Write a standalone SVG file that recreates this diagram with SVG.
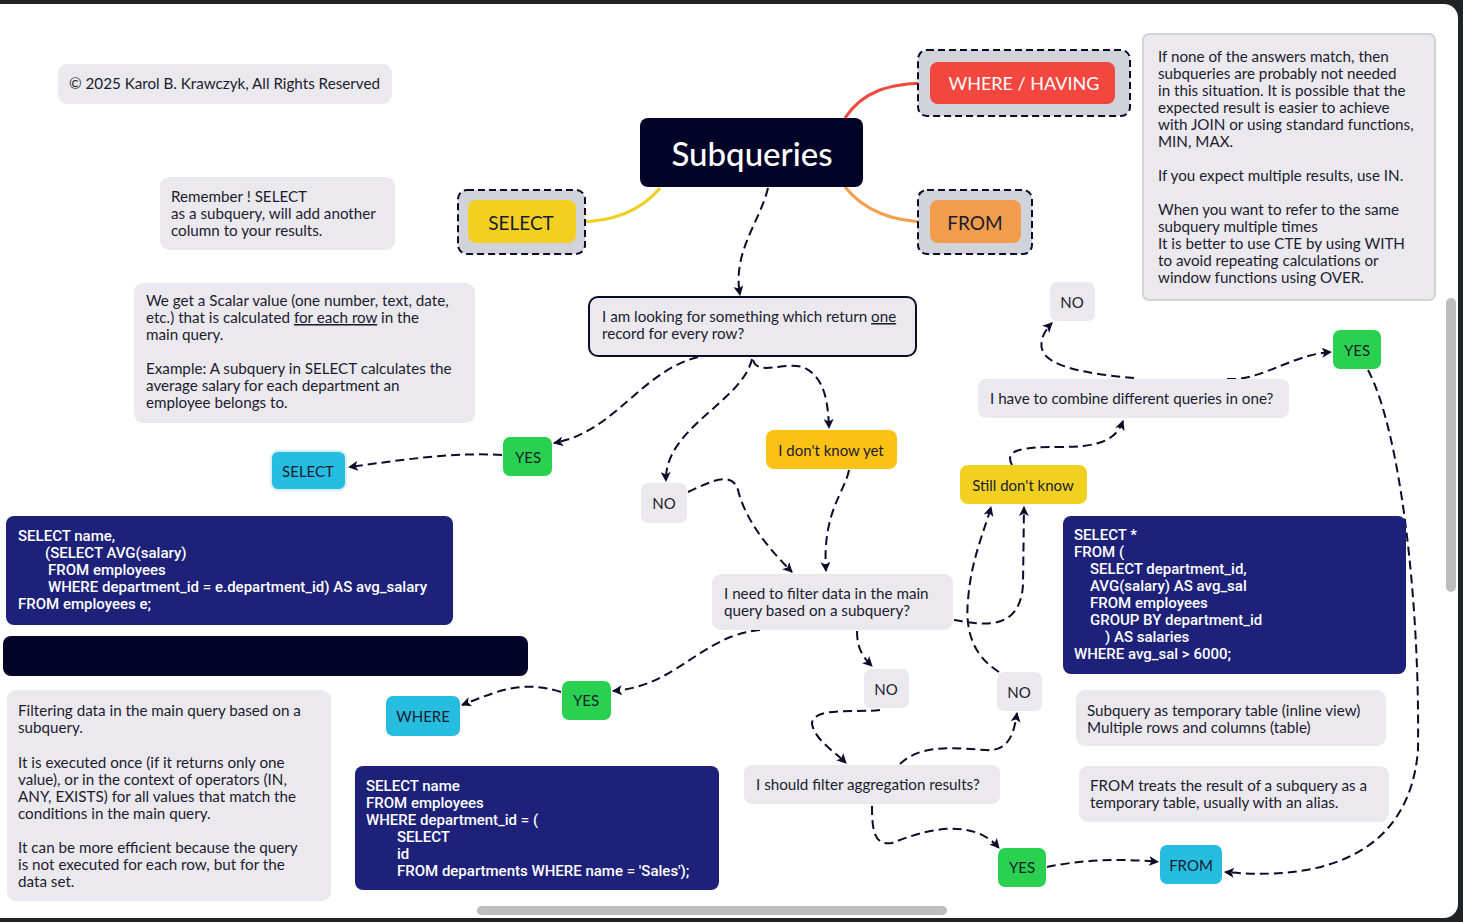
<svg xmlns="http://www.w3.org/2000/svg" width="1463" height="922" viewBox="0 0 1463 922">
<defs>
<marker id="arr" viewBox="0 0 10 10" refX="9" refY="5" markerWidth="10" markerHeight="10" markerUnits="userSpaceOnUse" orient="auto">
<path d="M0,0 L10,5 L0,10 L2.5,5 z" fill="#0b0c2a"/>
</marker>
<style>
.t{font-family:Lato,"Noto Sans",sans-serif;font-size:15.2px;fill:#1b1b30}
.c{font-family:Roboto,"Liberation Sans",sans-serif;font-size:15px;font-weight:500;fill:#ffffff;letter-spacing:0px}
.note{fill:#ebe9ed}
.code{fill:#1d217a}
.ctr{text-anchor:middle;dominant-baseline:central}
.lbl{font-family:Lato,"Noto Sans",sans-serif;font-size:15px;fill:#1b1b30}
.big{font-family:Lato,"Noto Sans",sans-serif;font-size:19px;fill:#1b1b30}
.yes{fill:#2ad150}
.cyan{fill:#27bde0}
.grey{fill:#ebe9ed}
.frame{fill:#d2d2da;stroke:#0b0c2a;stroke-width:2;stroke-dasharray:7 4}
.dash{fill:none;stroke:#0b0c2a;stroke-width:2;stroke-dasharray:9 5;marker-end:url(#arr)}
</style>
</defs>
<rect x="0" y="0" width="1463" height="922" fill="#202226"/>
<rect x="-20" y="4" width="1478" height="914" rx="14" fill="#ffffff"/>
<rect x="1446" y="298" width="10" height="294" rx="5" fill="#bdbdbd"/>
<rect x="477" y="906" width="470" height="9" rx="4.5" fill="#bdbdbd"/>

<g id="mindmap-lines" fill="none" stroke-width="3">
<path d="M845 118 C862 92 888 83 930 83" stroke="#ee4a40"/>
<path d="M660 188 C640 212 612 222 576 222" stroke="#efcf24"/>
<path d="M845 187 C862 208 890 222 930 222" stroke="#f2a04e"/>
</g>

<g id="connectors">
<path class="dash" d="M768 188 C760 222 732 252 740 295"/>
<path class="dash" d="M698 357 C640 372 615 432 554 443"/>
<path class="dash" d="M502 455 C452 452 402 460 349 467"/>
<path class="dash" d="M752 359 C742 402 664 428 666 481"/>
<path class="dash" d="M753 360 C758 377 786 360 805 368 C824 378 828 400 829 428"/>
<path class="dash" d="M688 492 C710 482 732 470 738 490 C746 522 770 550 792 572"/>
<path class="dash" d="M849 470 C845 492 822 512 826 571"/>
<path class="dash" d="M760 630 C700 636 678 686 613 691"/>
<path class="dash" d="M561 692 C522 680 500 690 462 705"/>
<path class="dash" d="M857 631 C857 650 864 658 872 666"/>
<path class="dash" d="M880 710 C860 713 812 706 812 724 C815 740 835 752 846 763"/>
<path class="dash" d="M900 764 C920 744 955 748 985 750 C1010 752 1014 732 1017 713"/>
<path class="dash" d="M872 806 C872 830 874 846 892 843 C920 832 970 815 999 848"/>
<path class="dash" d="M1047 867 C1080 860 1120 858 1158 862"/>
<path class="dash" d="M954 620 C982 625 1020 632 1023 585 L1024 507"/>
<path class="dash" d="M999 672 C980 660 964 640 968 600 C971 560 984 532 991 507"/>
<path class="dash" d="M1012 465 C1004 450 1020 447 1060 447 C1100 447 1116 440 1123 421"/>
<path class="dash" d="M1134 378 C1100 375 1060 370 1046 356 C1036 345 1044 331 1052 323"/>
<path class="dash" d="M1227 379 C1262 381 1290 355 1331 352"/>
<path class="dash" d="M1368 370 C1400 430 1420 600 1418 750 C1410 850 1330 882 1225 872"/>
</g>

<g id="copyright">
<rect x="58" y="64" width="334" height="40" rx="9" class="note"/>
<text class="t" x="69" y="89">© 2025 Karol B. Krawczyk, All Rights Reserved</text>
</g>

<g id="remember-note">
<rect x="160" y="177" width="235" height="73" rx="9" class="note"/>
<text class="t" x="171" y="202">Remember ! SELECT</text>
<text class="t" x="171" y="219">as a subquery, will add another</text>
<text class="t" x="171" y="236">column to your results.</text>
</g>

<g id="subqueries">
<rect x="640" y="118" width="223" height="69" rx="8" fill="#020326"/>
<text class="ctr" x="752" y="153" font-family="Lato,'Noto Sans',sans-serif" font-size="33" font-weight="500" fill="#ffffff">Subqueries</text>
</g>

<g id="select-topic">
<rect x="458" y="190" width="127" height="64" rx="9" class="frame"/>
<rect x="468" y="200" width="108" height="43" rx="8" fill="#f2d022"/>
<text class="ctr big" x="521" y="222">SELECT</text>
</g>

<g id="where-having-topic">
<rect x="918" y="50" width="212" height="66" rx="9" class="frame"/>
<rect x="930" y="62" width="185" height="42" rx="8" fill="#f2463e"/>
<text class="ctr" x="1024" y="83" font-family="Lato,'Noto Sans',sans-serif" font-size="18" fill="#ffffff">WHERE / HAVING</text>
</g>

<g id="from-topic">
<rect x="918" y="190" width="114" height="64" rx="9" class="frame"/>
<rect x="930" y="200" width="91" height="43" rx="8" fill="#f29d4b"/>
<text class="ctr big" x="975" y="222">FROM</text>
</g>

<g id="info-note">
<rect x="1143" y="34" width="292" height="266" rx="6" fill="#ebe9ed" stroke="#d3d3d6" stroke-width="2"/>
<text class="t" x="1158" y="62">If none of the answers match, then</text>
<text class="t" x="1158" y="79">subqueries are probably not needed</text>
<text class="t" x="1158" y="96">in this situation. It is possible that the</text>
<text class="t" x="1158" y="113">expected result is easier to achieve</text>
<text class="t" x="1158" y="130">with JOIN or using standard functions,</text>
<text class="t" x="1158" y="147">MIN, MAX.</text>
<text class="t" x="1158" y="181">If you expect multiple results, use IN.</text>
<text class="t" x="1158" y="215">When you want to refer to the same</text>
<text class="t" x="1158" y="232">subquery multiple times</text>
<text class="t" x="1158" y="249">It is better to use CTE by using WITH</text>
<text class="t" x="1158" y="266">to avoid repeating calculations or</text>
<text class="t" x="1158" y="283">window functions using OVER.</text>
</g>

<g id="scalar-note">
<rect x="134" y="283" width="341" height="140" rx="9" class="note"/>
<text class="t" x="146" y="306">We get a Scalar value (one number, text, date,</text>
<text class="t" x="146" y="323">etc.) that is calculated <tspan text-decoration="underline">for each row</tspan> in the</text>
<text class="t" x="146" y="340">main query.</text>
<text class="t" x="146" y="374">Example: A subquery in SELECT calculates the</text>
<text class="t" x="146" y="391">average salary for each department an</text>
<text class="t" x="146" y="408">employee belongs to.</text>
</g>

<g id="q-one-record">
<rect x="589" y="297" width="327" height="59" rx="9" fill="#ebe9ed" stroke="#0b0c2a" stroke-width="2"/>
<text class="t" x="602" y="322">I am looking for something which return <tspan text-decoration="underline">one</tspan></text>
<text class="t" x="602" y="339">record for every row?</text>
</g>

<g id="yes-select">
<rect x="503" y="437" width="49" height="39" rx="7" class="yes"/>
<text class="ctr lbl" x="528" y="457">YES</text>
</g>

<g id="select-answer">
<rect x="271" y="451" width="75" height="39" rx="7" class="cyan" stroke="#d6eef6" stroke-width="2"/>
<text class="ctr lbl" x="308" y="471">SELECT</text>
</g>

<g id="code-select">
<rect x="6" y="516" width="447" height="109" rx="8" class="code"/>
<text class="c" x="18" y="541">SELECT name,</text>
<text class="c" x="45" y="558">(SELECT AVG(salary)</text>
<text class="c" x="48" y="575">FROM employees</text>
<text class="c" x="48" y="592">WHERE department_id = e.department_id) AS avg_salary</text>
<text class="c" x="18" y="609">FROM employees e;</text>
</g>

<g id="dark-bar">
<rect x="3" y="636" width="525" height="40" rx="8" fill="#020326"/>
</g>

<g id="no-1">
<rect x="641" y="483" width="46" height="40" rx="7" class="grey"/>
<text class="ctr lbl" x="664" y="503">NO</text>
</g>

<g id="dont-know-yet">
<rect x="766" y="430" width="131" height="39" rx="8" fill="#fbc115"/>
<text class="ctr lbl" x="831" y="450">I don't know yet</text>
</g>

<g id="q-filter">
<rect x="712" y="574" width="241" height="56" rx="9" class="note"/>
<text class="t" x="724" y="599">I need to filter data in the main</text>
<text class="t" x="724" y="616">query based on a subquery?</text>
</g>

<g id="yes-where">
<rect x="562" y="681" width="49" height="39" rx="7" class="yes"/>
<text class="ctr lbl" x="586" y="700">YES</text>
</g>

<g id="where-answer">
<rect x="386" y="696" width="74" height="40" rx="7" class="cyan"/>
<text class="ctr lbl" x="423" y="716">WHERE</text>
</g>

<g id="filter-note">
<rect x="7" y="690" width="324" height="211" rx="9" class="note"/>
<text class="t" x="18" y="716">Filtering data in the main query based on a</text>
<text class="t" x="18" y="733">subquery.</text>
<text class="t" x="18" y="768">It is executed once (if it returns only one</text>
<text class="t" x="18" y="785">value), or in the context of operators (IN,</text>
<text class="t" x="18" y="802">ANY, EXISTS) for all values that match the</text>
<text class="t" x="18" y="819">conditions in the main query.</text>
<text class="t" x="18" y="853">It can be more efficient because the query</text>
<text class="t" x="18" y="870">is not executed for each row, but for the</text>
<text class="t" x="18" y="887">data set.</text>
</g>

<g id="code-where">
<rect x="355" y="766" width="364" height="124" rx="8" class="code"/>
<text class="c" x="366" y="791">SELECT name</text>
<text class="c" x="366" y="808">FROM employees</text>
<text class="c" x="366" y="825">WHERE department_id = (</text>
<text class="c" x="397" y="842">SELECT</text>
<text class="c" x="397" y="859">id</text>
<text class="c" x="397" y="876">FROM departments WHERE name = 'Sales');</text>
</g>

<g id="no-2">
<rect x="864" y="669" width="45" height="39" rx="7" class="grey"/>
<text class="ctr lbl" x="886" y="689">NO</text>
</g>

<g id="no-3">
<rect x="997" y="672" width="45" height="39" rx="7" class="grey"/>
<text class="ctr lbl" x="1019" y="692">NO</text>
</g>

<g id="q-aggregation">
<rect x="744" y="765" width="256" height="39" rx="8" class="note"/>
<text class="t" x="756" y="790">I should filter aggregation results?</text>
</g>

<g id="yes-from">
<rect x="998" y="848" width="48" height="39" rx="7" class="yes"/>
<text class="ctr lbl" x="1022" y="867">YES</text>
</g>

<g id="from-answer">
<rect x="1160" y="845" width="62" height="39" rx="7" class="cyan"/>
<text class="ctr lbl" x="1191" y="865">FROM</text>
</g>

<g id="inline-view-note">
<rect x="1076" y="690" width="310" height="56" rx="9" class="note"/>
<text class="t" x="1087" y="716">Subquery as temporary table (inline view)</text>
<text class="t" x="1087" y="733">Multiple rows and columns (table)</text>
</g>

<g id="from-note">
<rect x="1079" y="766" width="310" height="56" rx="9" class="note"/>
<text class="t" x="1090" y="791">FROM treats the result of a subquery as a</text>
<text class="t" x="1090" y="808">temporary table, usually with an alias.</text>
</g>

<g id="code-from">
<rect x="1063" y="516" width="343" height="158" rx="8" class="code"/>
<text class="c" x="1074" y="540">SELECT *</text>
<text class="c" x="1074" y="557">FROM (</text>
<text class="c" x="1090" y="574">SELECT department_id,</text>
<text class="c" x="1090" y="591">AVG(salary) AS avg_sal</text>
<text class="c" x="1090" y="608">FROM employees</text>
<text class="c" x="1090" y="625">GROUP BY department_id</text>
<text class="c" x="1105" y="642">) AS salaries</text>
<text class="c" x="1074" y="659">WHERE avg_sal &gt; 6000;</text>
</g>

<g id="still-dont-know">
<rect x="960" y="465" width="127" height="39" rx="8" fill="#f2d022"/>
<text class="ctr lbl" x="1023" y="485">Still don't know</text>
</g>

<g id="q-combine">
<rect x="978" y="379" width="311" height="39" rx="8" class="note"/>
<text class="t" x="990" y="404">I have to combine different queries in one?</text>
</g>

<g id="no-4">
<rect x="1050" y="282" width="45" height="39" rx="7" class="grey"/>
<text class="ctr lbl" x="1072" y="302">NO</text>
</g>

<g id="yes-4">
<rect x="1333" y="330" width="48" height="39" rx="7" class="yes"/>
<text class="ctr lbl" x="1357" y="350">YES</text>
</g>
</svg>
